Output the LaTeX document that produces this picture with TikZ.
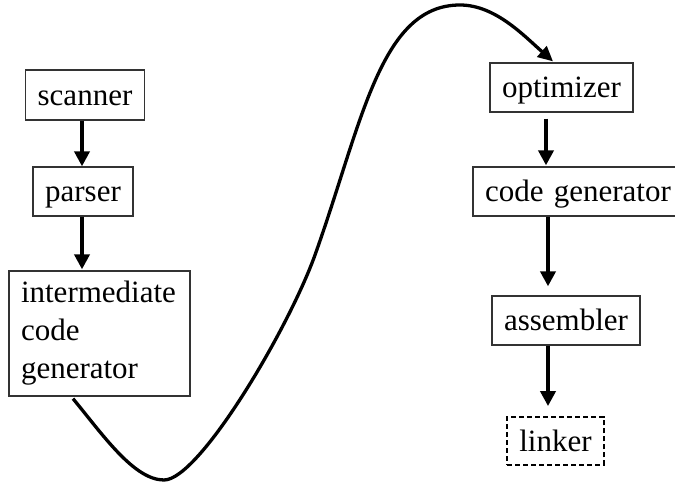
\documentclass[tikz,border=0pt]{standalone}
\usepackage{fontspec}
\setmainfont{Liberation Serif}
\usetikzlibrary{arrows.meta}
\begin{document}
\begin{tikzpicture}[x=1pt,y=-1pt,
  box/.style={draw=black!80,line width=1.3pt,rectangle,inner xsep=12pt,inner ysep=0pt,
    font=\fontsize{31}{38}\selectfont,text height=25pt,text depth=5pt},
  dbox/.style={box,draw=black,line width=1.8pt,dash pattern=on 5pt off 3pt},
  arr/.style={line width=4pt,-{Triangle[length=15pt,width=15pt]}},
  curv/.style={line width=3.3pt,-{Triangle[length=15pt,width=14pt]}}]
\useasboundingbox (0,0) rectangle (675,482);
\node[box,minimum width=118pt,minimum height=50pt] (scanner) at (85,95) {scanner};
\node[box,minimum width=100pt,minimum height=49pt] (parser) at (83,191.5) {parser};
\node[draw=black!80,line width=1.3pt,rectangle,inner xsep=12pt,inner ysep=0pt,
  font=\fontsize{31}{38}\selectfont,align=left,text width=157pt,
  minimum height=125pt] (ic) at (99.5,333.5) {intermediate\\code\\generator};
\node[box,minimum width=143pt,minimum height=49pt] (opt) at (561.5,87.5) {optimizer};
\node[box,minimum width=214pt,minimum height=49pt,text width=190pt,align=left] (cg) at (580,191.5) {code generator};
\node[box,minimum width=148pt,minimum height=49pt] (asm) at (566,320.5) {assembler};
\node[dbox,minimum width=95pt,minimum height=48pt] (lnk) at (555.5,441) {linker};
\draw[arr] ([xshift=-3pt]scanner.south) -- ([xshift=-1pt]parser.north);
\draw[arr] ([xshift=-1pt]parser.south) -- ([xshift=-17.5pt,yshift=1pt]ic.north);
\draw[arr] ([xshift=-15.5pt,yshift=-6pt]opt.south) -- ([xshift=-34pt,yshift=1pt]cg.north);
\draw[arr] ([xshift=-32pt]cg.south) -- ([xshift=-18pt,yshift=9pt]asm.north);
\draw[arr] ([xshift=-18pt]asm.south) -- ([xshift=-7.5pt,yshift=10pt]lnk.north);
\draw[curv] ([xshift=-26.5pt,yshift=-2pt]ic.south)
  .. controls (103,435) and (134,480) .. (164,480)
  .. controls (199,480) and (288,330) .. (315,255)
  .. controls (362,123.4) and (380,5) .. (460,5)
  .. controls (495,5) and (523.4,35.2) .. ([xshift=-8.5pt,yshift=1pt]opt.north);
\end{tikzpicture}
\end{document}
